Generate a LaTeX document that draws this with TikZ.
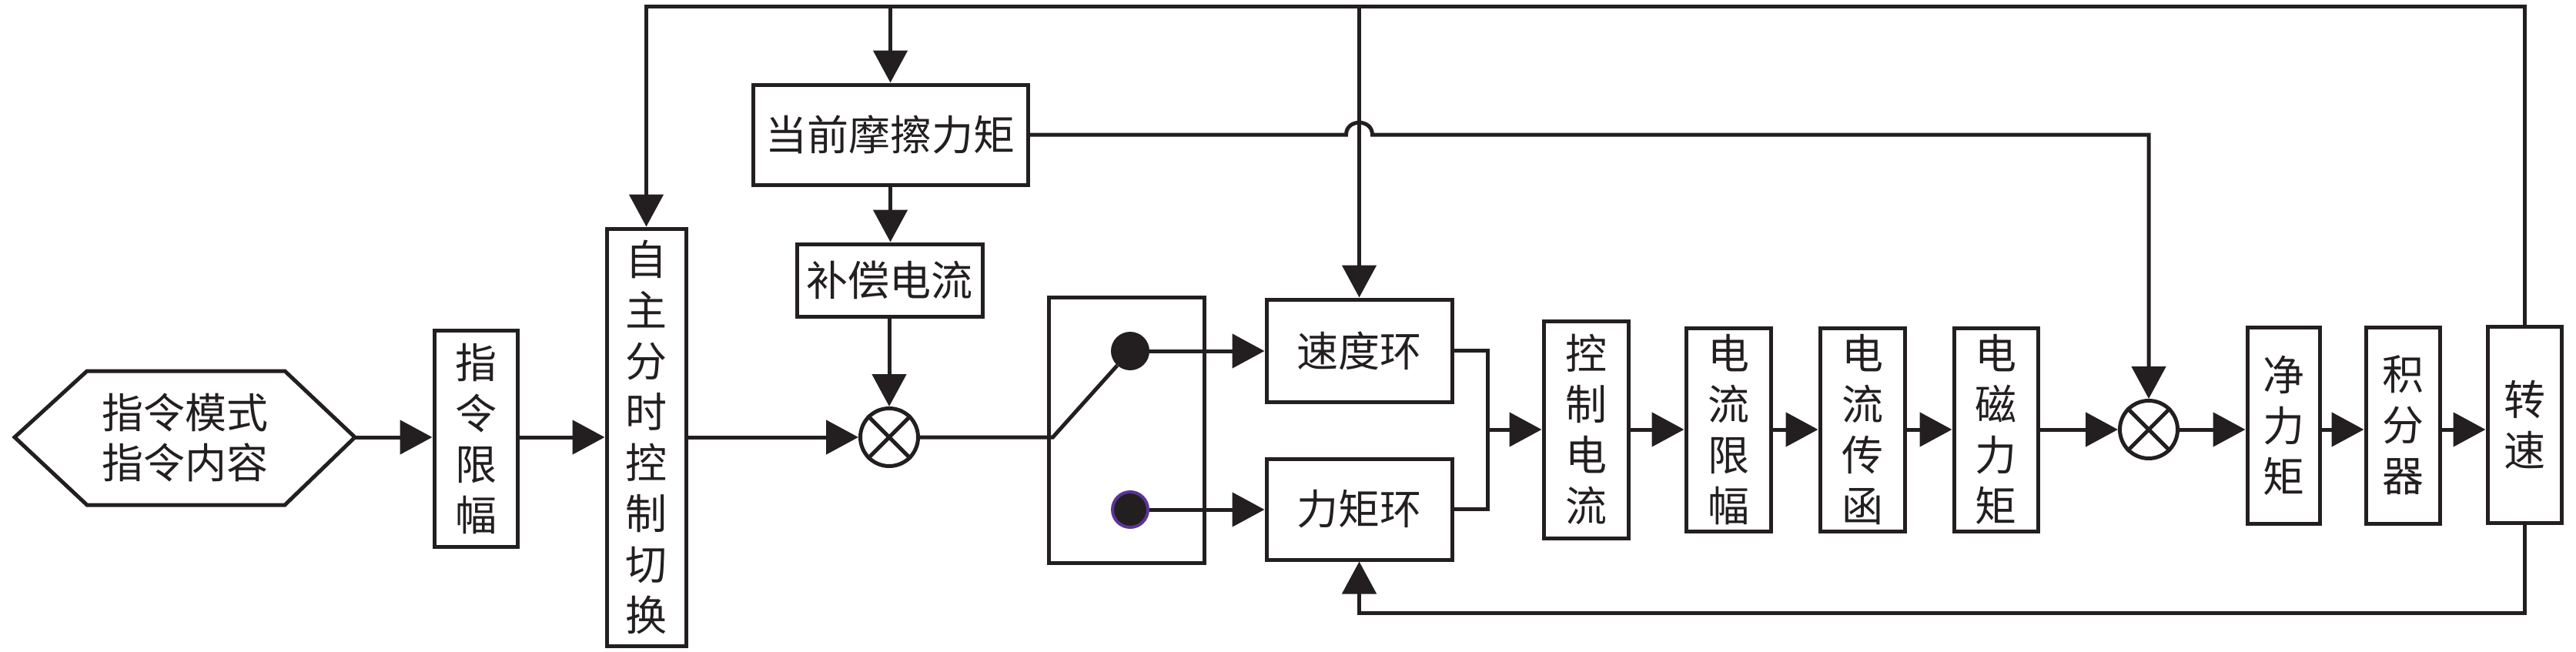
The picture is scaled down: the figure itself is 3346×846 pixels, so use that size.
\documentclass[tikz,border=0pt]{standalone}
\usepackage{fontspec}
\newfontfamily\cjk{Noto Sans CJK SC}
\usetikzlibrary{arrows.meta}
\definecolor{ink}{HTML}{231F20}
\definecolor{ringpurple}{RGB}{92,52,150}
\begin{document}
\begin{tikzpicture}[x=1pt,y=-1pt,
  blk/.style={draw=ink, line width=5pt, inner sep=0pt, align=center, text=ink,
    font=\cjk\fontsize{54}{66}\selectfont},
  ln/.style={draw=ink, line width=5pt},
  arr/.style={draw=ink, line width=5pt, -{Triangle[length=42pt,width=44pt]}},
  mix/.style={circle, draw=ink, line width=5pt, minimum size=75pt, inner sep=0pt},
  dot/.style={circle, fill=ink, inner sep=0pt}]
\useasboundingbox (0,0) rectangle (3346,846);
% hexagon
\draw[ln, line join=miter] (19,568) -- (113,482) -- (370,482) -- (461,568) -- (370,656) -- (113,656) -- cycle;
\node[inner sep=0pt, minimum width=442pt, minimum height=174pt, align=center, text=ink,
  font=\cjk\fontsize{54}{65}\selectfont] (hex) at (240,568) {指令模式\\指令内容};
% left blocks
\node[blk, minimum width=108pt, minimum height=281pt] (xf) at (618,569.5) {指\\令\\限\\幅};
\node[blk, minimum width=103pt, minimum height=542pt] (zz) at (839.5,568) {自\\主\\分\\时\\控\\制\\切\\换};
\node[blk, minimum width=357pt, minimum height=130pt] (mc) at (1156.5,175) {当前摩擦力矩};
\node[blk, minimum width=241pt, minimum height=94pt] (bc) at (1155.5,364) {补偿电流};
\node[mix] (m1) at (1155,568) {};
\draw[ln] (m1.north west) -- (m1.south east) (m1.north east) -- (m1.south west);
% switch
\node[draw=ink, line width=5pt, minimum width=202pt, minimum height=345pt, inner sep=0pt] (sw) at (1463,558.5) {};
\node[dot, minimum size=50pt] (d1) at (1468,456) {};
\node[dot, draw=ringpurple, line width=4pt, minimum size=46pt] (d2) at (1468,662) {};
% loops
\node[blk, minimum width=241pt, minimum height=133pt] (sp) at (1765.5,455.5) {速度环};
\node[blk, minimum width=241pt, minimum height=131pt] (lj) at (1765.5,661.5) {力矩环};
% right chain
\node[blk, minimum width=110pt, minimum height=282pt] (kz) at (2060,558) {控\\制\\电\\流};
\node[blk, minimum width=110pt, minimum height=264pt] (xl) at (2245,558) {电\\流\\限\\幅};
\node[blk, minimum width=110pt, minimum height=264pt] (cf) at (2419,558) {电\\流\\传\\函};
\node[blk, minimum width=109pt, minimum height=264pt] (dc) at (2592.5,558) {电\\磁\\力\\矩};
\node[mix] (m2) at (2791,558) {};
\draw[ln] (m2.north west) -- (m2.south east) (m2.north east) -- (m2.south west);
\node[blk, minimum width=94pt, minimum height=255pt] (jl) at (2966,552.5) {净\\力\\矩};
\node[blk, minimum width=96pt, minimum height=255pt] (jf) at (3121,552.5) {积\\分\\器};
\node[blk, minimum width=96pt, minimum height=255pt] (zs) at (3279,551.5) {转\\速};
% coordinates
\coordinate (tl) at (839.5,8);
\coordinate (bl) at (1765.5,796);
\coordinate (mg) at (1932,558);
\coordinate (hx) at (mc.east -| sp.north);
% left connectors
\draw[arr] (hex.east) -- (xf.west |- hex.east);
\draw[arr] (xf.east |- zz.east) -- (zz.west);
\draw[arr] (zz.east) -- (m1.west);
\draw[arr] (mc.south) -- (mc.south |- bc.north);
\draw[arr] (bc.south -| m1.north) -- (m1.north);
% switch lever
\draw[ln] (m1.east) -- (sw.west |- m1.east) -- ([xshift=8pt]sw.west |- m1.east) -- (d1);
\draw[arr] (d1.east) -- (sp.west |- d1.east);
\draw[arr] (d2.east) -- (lj.west |- d2.east);
% merge
\draw[ln] (sp.east) -- (sp.east -| mg) -- (lj.east -| mg) -- (lj.east);
\draw[arr] (mg) -- (kz.west |- mg);
\draw[arr] (kz.east) -- (xl.west);
\draw[arr] (xl.east) -- (cf.west);
\draw[arr] (cf.east) -- (dc.west);
\draw[arr] (dc.east) -- (m2.west);
\draw[arr] (m2.east) -- (jl.west |- m2.east);
\draw[arr] (jl.east |- m2.east) -- (jf.west |- m2.east);
\draw[arr] (jf.east |- m2.east) -- (zs.west |- m2.east);
% top feedback
\draw[arr, line join=miter] (zs.north) -- (zs.north |- tl) -- (tl) -- (zz.north);
\draw[arr] (mc.north |- tl) -- (mc.north);
\draw[arr] (sp.north |- tl) -- (sp.north);
% friction torque line with hop
\draw[arr, line join=miter] (mc.east) -- ([xshift=-17pt]hx)
  .. controls ([xshift=-17pt,yshift=21pt]hx) and ([xshift=17pt,yshift=21pt]hx) .. ([xshift=17pt]hx)
  -- (hx -| m2.north) -- (m2.north);
% bottom feedback
\draw[arr, line join=miter] (zs.south) -- (zs.south |- bl) -- (bl) -- (lj.south);
\end{tikzpicture}
\end{document}
